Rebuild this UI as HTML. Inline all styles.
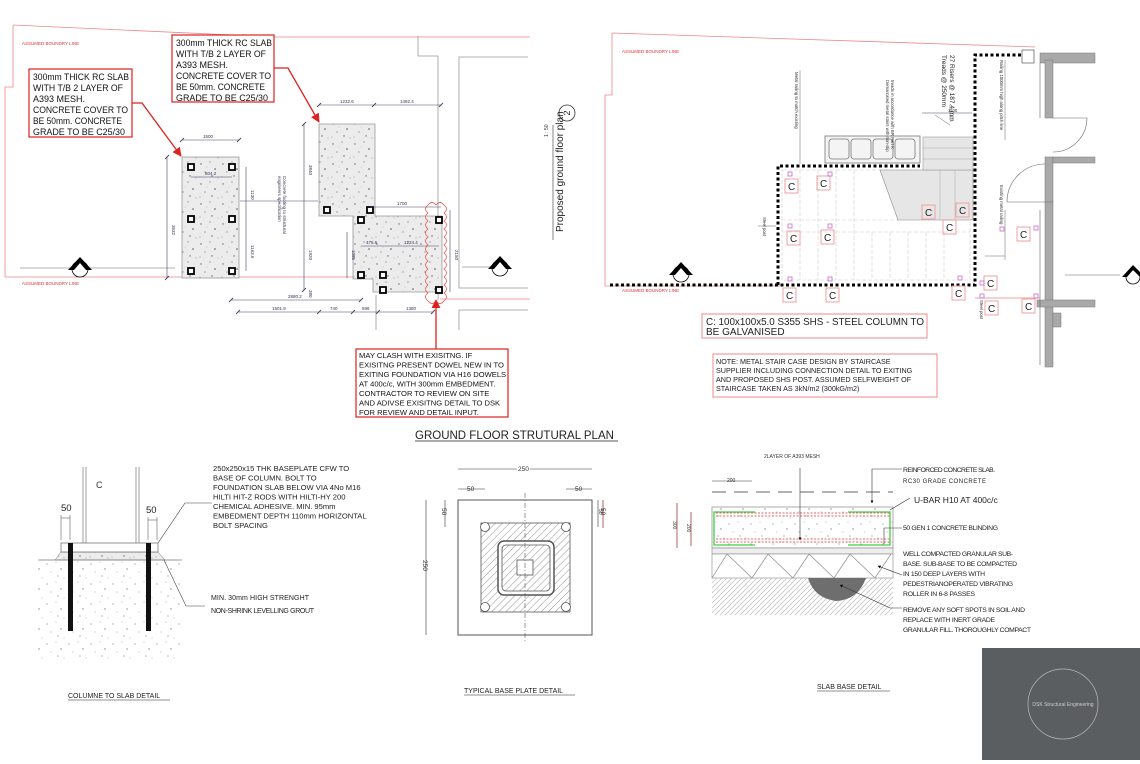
<!DOCTYPE html>
<html><head><meta charset="utf-8"><style>
html,body{margin:0;padding:0;background:#fff;}
svg{display:block;font-family:"Liberation Sans",sans-serif;}
</style></head><body>
<svg width="1140" height="764" viewBox="0 0 1140 764" xmlns="http://www.w3.org/2000/svg">
<defs>
<pattern id="spk" width="22" height="20" patternUnits="userSpaceOnUse">
<rect width="22" height="20" fill="#ececec"/>
<circle cx="3" cy="4" r="0.7" fill="#666"/><circle cx="12" cy="2" r="0.6" fill="#777"/>
<circle cx="17" cy="9" r="0.8" fill="#555"/><circle cx="7" cy="12" r="0.6" fill="#777"/>
<circle cx="14" cy="16" r="0.7" fill="#666"/><circle cx="2" cy="17" r="0.5" fill="#888"/>
<circle cx="20" cy="18" r="0.5" fill="#888"/><circle cx="9" cy="7" r="0.4" fill="#999"/>
</pattern>
<pattern id="spk2" width="22" height="20" patternUnits="userSpaceOnUse">
<rect width="22" height="20" fill="#fff"/>
<circle cx="3" cy="4" r="0.6" fill="#888"/><circle cx="12" cy="2" r="0.5" fill="#999"/>
<circle cx="17" cy="9" r="0.7" fill="#888"/><circle cx="7" cy="12" r="0.5" fill="#999"/>
<circle cx="14" cy="16" r="0.6" fill="#888"/><circle cx="20" cy="18" r="0.5" fill="#aaa"/>
</pattern>
<pattern id="hatch" width="5" height="5" patternUnits="userSpaceOnUse" patternTransform="rotate(45)">
<rect width="5" height="5" fill="#fff"/><line x1="0" y1="0" x2="0" y2="5" stroke="#777" stroke-width="0.8"/>
</pattern>
<pattern id="soil" width="10" height="10" patternUnits="userSpaceOnUse">
<path d="M0 10 L10 0 M5 10 L10 5 M0 5 L5 0" stroke="#bbb" stroke-width="0.7"/>
</pattern>
<marker id="ar" viewBox="0 0 10 10" refX="9" refY="5" markerWidth="7" markerHeight="7" orient="auto"><path d="M0 0L10 5L0 10z" fill="#d22"/></marker>
<marker id="ak" viewBox="0 0 10 10" refX="9" refY="5" markerWidth="5" markerHeight="5" orient="auto"><path d="M0 0L10 5L0 10z" fill="#000"/></marker>
</defs>

<g fill="none" stroke="#e88" stroke-width="0.8">
<path d="M13 25 L13 87 L5 87 L5 277 L320 277 L360 277"/>
<path d="M13 25 L277 37 L530 37"/>
<path d="M440 299 L530 299"/>
</g>
<text x="22" y="45" font-size="4.5" fill="#d33">ASSUMED BOUNDRY LINE</text>
<text x="22" y="285" font-size="4.5" fill="#d33">ASSUMED BOUNDRY LINE</text>
<g fill="none" stroke="#999" stroke-width="0.8">
<path d="M418 36 L418 56 L438 56 L438 300"/>
<path d="M528 57 L459 57 L459 288 L528 288"/>
<path d="M528 310 L459 310 L459 330"/>
<line x1="20" y1="268" x2="175" y2="268"/>
<line x1="462" y1="267" x2="495" y2="267"/>
<line x1="376" y1="295" x2="376" y2="330" />
</g>
<rect x="182" y="157" width="57" height="121" fill="url(#spk)" stroke="#999" stroke-width="0.8"/>
<path d="M319 124 L375 124 L375 216 L442 216 L442 292 L373 292 L373 279 L353 279 L353 216 L319 216 Z" fill="url(#spk)" stroke="#999" stroke-width="0.8"/>
<g fill="#fff" stroke="#000" stroke-width="1.8">
<rect x="188" y="164" width="6" height="6"/><rect x="229" y="164" width="6" height="6"/>
<rect x="188" y="216" width="6" height="6"/><rect x="229" y="216" width="6" height="6"/>
<rect x="188" y="268" width="6" height="6"/><rect x="229" y="268" width="6" height="6"/>
<rect x="324" y="207" width="6" height="6"/><rect x="367" y="207" width="6" height="6"/>
<rect x="358" y="217" width="6" height="6"/><rect x="436" y="217" width="6" height="6"/>
<rect x="358" y="272" width="6" height="6"/><rect x="380" y="272" width="6" height="6"/>
<rect x="380" y="287" width="6" height="6"/><rect x="436" y="287" width="6" height="6"/>
</g>
<g stroke="#446" stroke-width="0.6" fill="none">
<line x1="182" y1="140" x2="239" y2="140"/><line x1="191" y1="177" x2="232" y2="177"/>
<line x1="167" y1="157" x2="167" y2="278"/><line x1="246" y1="167" x2="246" y2="271"/>
<line x1="240" y1="201" x2="318" y2="201"/>
<line x1="319" y1="105" x2="441" y2="105"/><line x1="304" y1="124" x2="304" y2="290"/>
<line x1="370" y1="207" x2="441" y2="207"/><line x1="347" y1="232" x2="347" y2="278"/>
<line x1="361" y1="246" x2="439" y2="246"/><line x1="450" y1="210" x2="450" y2="292"/>
<line x1="231" y1="300" x2="361" y2="300"/><line x1="238" y1="312" x2="433" y2="312"/>
</g>
<g stroke="#446" stroke-width="0.9">
<path d="M180 142l4-4M237 142l4-4M165 159l4-4M165 280l4-4M317 107l4-4M372 107l4-4M439 107l4-4M229 302l4-4M359 302l4-4M236 314l4-4M317 314l4-4M351 314l4-4M376 314l4-4M431 314l4-4M302 126l4-4M302 292l4-4"/>
</g>
<g font-size="4.5" fill="#335">
<text x="203" y="138">1500</text><text x="205" y="175">804.2</text>
<text x="340" y="103">1232.6</text><text x="400" y="103">1492.4</text>
<text x="397" y="205">1700</text><text x="366" y="244">475.6</text><text x="404" y="244">1224.4</text>
<text x="288" y="298">2880.2</text><text x="272" y="310">1501.9</text><text x="330" y="310">740</text>
<text x="362" y="310">596</text><text x="406" y="310">1380</text>
</g>
<g font-size="4.5" fill="#335">
<text transform="translate(172,225) rotate(90)">3532</text>
<text transform="translate(251,190) rotate(90)">1130</text>
<text transform="translate(251,245) rotate(90)">1163.6</text>
<text transform="translate(309,165) rotate(90)">3840</text>
<text transform="translate(309,250) rotate(90)">1920</text>
<text transform="translate(352,250) rotate(90)">1085</text>
<text transform="translate(455,250) rotate(90)">2150</text>
<text transform="translate(309,290) rotate(90)">380</text>
<text transform="translate(283,176) rotate(90)">Concrete footing to structural</text>
<text transform="translate(278,176) rotate(90)">engineers specification</text>
</g>
<path d="M428 205 q4-5 8 0 q4-5 8 0 q5 4 0 8 q5 4 0 8 q5 4 0 8 q5 4 0 8 q5 4 0 8 q5 4 0 8 q5 4 0 8 q5 4 0 8 q5 4 0 8 q5 4 0 8 q5 4 0 8 q5 4 0 8 q-4 5-8 0 q-4 5-8 0 q-5-4 0-8 q-5-4 0-8 q-5-4 0-8 q-5-4 0-8 q-5-4 0-8 q-5-4 0-8 q-5-4 0-8 q-5-4 0-8 q-5-4 0-8 q-5-4 0-8 q-5-4 0-8 q-5-4 0-8z" fill="none" stroke="#e44" stroke-width="0.7"/>
<g fill="#fff" stroke="#d22" stroke-width="1.2">
<rect x="29" y="69" width="103" height="68"/>
<rect x="172" y="35" width="102" height="67"/>
<rect x="356" y="349" width="152" height="68"/>
</g>
<g stroke="#d22" stroke-width="1.3" fill="none">
<polyline points="132,103 142,103 181,156" marker-end="url(#ar)"/>
<polyline points="274,68 288,68 319,122" marker-end="url(#ar)"/>
<line x1="436" y1="349" x2="436" y2="300" marker-end="url(#ar)"/>
</g>
<g font-size="9.4" fill="#111">
<text x="33" y="80" textLength="96" lengthAdjust="spacingAndGlyphs">300mm THICK RC SLAB</text>
<text x="33" y="91" textLength="90" lengthAdjust="spacingAndGlyphs">WITH T/B 2 LAYER OF</text>
<text x="33" y="102" textLength="52" lengthAdjust="spacingAndGlyphs">A393 MESH.</text>
<text x="33" y="113" textLength="95" lengthAdjust="spacingAndGlyphs">CONCRETE COVER TO</text>
<text x="33" y="124" textLength="89" lengthAdjust="spacingAndGlyphs">BE 50mm. CONCRETE</text>
<text x="33" y="135" textLength="92" lengthAdjust="spacingAndGlyphs">GRADE TO BE C25/30</text>
<text x="176" y="46" textLength="96" lengthAdjust="spacingAndGlyphs">300mm THICK RC SLAB</text>
<text x="176" y="57" textLength="90" lengthAdjust="spacingAndGlyphs">WITH T/B 2 LAYER OF</text>
<text x="176" y="68" textLength="52" lengthAdjust="spacingAndGlyphs">A393 MESH.</text>
<text x="176" y="79" textLength="95" lengthAdjust="spacingAndGlyphs">CONCRETE COVER TO</text>
<text x="176" y="90" textLength="89" lengthAdjust="spacingAndGlyphs">BE 50mm. CONCRETE</text>
<text x="176" y="101" textLength="92" lengthAdjust="spacingAndGlyphs">GRADE TO BE C25/30</text>
</g>
<g font-size="7.6" fill="#111">
<text x="359" y="358">MAY CLASH WITH EXISITNG. IF</text>
<text x="359" y="367.5">EXISITNG PRESENT DOWEL NEW IN TO</text>
<text x="359" y="377">EXITING FOUNDATION VIA H16 DOWELS</text>
<text x="359" y="386.5">AT 400c/c, WITH 300mm EMBEDMENT.</text>
<text x="359" y="396">CONTRACTOR TO REVIEW ON SITE</text>
<text x="359" y="405.5">AND ADIVSE EXISITNG DETAIL TO DSK</text>
<text x="359" y="415">FOR REVIEW AND DETAIL INPUT.</text>
</g>
<g stroke="#000" stroke-width="0.8" fill="#fff">
<circle cx="80" cy="269" r="8"/><circle cx="500" cy="268" r="8"/><circle cx="681" cy="274" r="8"/><circle cx="1133" cy="277" r="7"/>
</g>
<g fill="#000"><path d="M68 270 L80 257 L92 270 L86 270 L80 263 L74 270Z"/><path d="M488 269 L500 256 L512 269 L506 269 L500 262 L494 269Z"/><path d="M669 275 L681 262 L693 275 L687 275 L681 268 L675 275Z"/><path d="M1122 277 L1133 265 L1140 272 L1140 277 L1133 270 L1127 277Z"/></g>
<circle cx="567" cy="113" r="8" fill="none" stroke="#333" stroke-width="0.8"/>
<text x="567" y="116" font-size="9" text-anchor="middle" transform="rotate(-90 567 113)" fill="#222">2</text>
<line x1="553" y1="125" x2="553" y2="240" stroke="#333" stroke-width="0.6"/>
<text transform="translate(548,137) rotate(-90)" font-size="5" fill="#333">1 : 50</text>
<text transform="translate(563,232) rotate(-90)" font-size="10" fill="#222">Proposed ground floor plan</text>

<g fill="none" stroke="#e88" stroke-width="0.8">
<path d="M612 33 L1035 47 M612 33 L612 95 L605 95 L605 286 L780 286"/>
<path d="M975 298 L1040 298"/>
</g>
<text x="622" y="53" font-size="4.5" fill="#d33">ASSUMED BOUNDRY LINE</text>
<text x="622" y="292" font-size="4.5" fill="#d33">ASSUMED BOUNDRY LINE</text>
<g stroke="#ccc" stroke-width="0.6" stroke-dasharray="4 2" fill="none">
<rect x="782" y="170" width="188" height="110"/>
<line x1="782" y1="220" x2="900" y2="220"/><line x1="782" y1="232" x2="970" y2="232"/>
<line x1="800" y1="170" x2="800" y2="280"/><line x1="818" y1="170" x2="818" y2="280"/><line x1="836" y1="170" x2="836" y2="280"/><line x1="854" y1="170" x2="854" y2="280"/><line x1="872" y1="232" x2="872" y2="280"/><line x1="890" y1="232" x2="890" y2="280"/><line x1="908" y1="232" x2="908" y2="280"/><line x1="926" y1="232" x2="926" y2="280"/><line x1="944" y1="232" x2="944" y2="280"/>
</g>
<path d="M880 170 L973 170 L973 220 L898 220 Z" fill="#e6e6e6" stroke="#888" stroke-width="0.6"/>
<rect x="923" y="137" width="50" height="33" fill="#e6e6e6" stroke="#999" stroke-width="0.6"/>
<g stroke="#aaa" stroke-width="0.5"><line x1="923" y1="148" x2="973" y2="148"/><line x1="923" y1="159" x2="973" y2="159"/><line x1="940" y1="170" x2="940" y2="220"/><line x1="955" y1="170" x2="955" y2="220"/></g>
<g fill="#f4f4f4" stroke="#777" stroke-width="0.8">
<rect x="825" y="136" width="95" height="27"/>
<rect x="829" y="139" width="20" height="20" rx="3"/><rect x="851" y="139" width="20" height="20" rx="3"/><rect x="873" y="139" width="20" height="20" rx="3"/><rect x="895" y="139" width="20" height="20" rx="3"/>
</g>
<g stroke="#000" stroke-width="3" stroke-dasharray="3 2.5" fill="none">
<path d="M610 285 L975 285 L975 55 L1023 55"/>
<path d="M778 285 L778 166 L920 166"/>
</g>
<g stroke="#666" stroke-width="0.5" fill="none">
<line x1="800" y1="70" x2="800" y2="164"/><line x1="1005" y1="60" x2="1005" y2="140"/>
<line x1="950" y1="105" x2="950" y2="120"/><line x1="1005" y1="210" x2="1005" y2="260"/>
<line x1="985" y1="256" x2="1005" y2="256"/><line x1="758" y1="226" x2="776" y2="226"/>
<line x1="935" y1="115" x2="950" y2="125"/>
<line x1="922" y1="113" x2="972" y2="113" stroke="#446"/>
</g>
<g font-size="4.3" fill="#333">
<text transform="translate(795,72) rotate(90)">Metal railing to match existing</text>
<text transform="translate(886,80) rotate(90)">Demarcated metal stairs with non-slip</text>
<text transform="translate(891,80) rotate(90)">treads in accordance with BR Part K</text>
<text transform="translate(1000,60) rotate(90)">Railing 1000mm high along pitch line</text>
<text transform="translate(1000,185) rotate(90)">Existing metal railing</text>
<text transform="translate(763,217) rotate(90)">Steel post</text>
<text transform="translate(980,300) rotate(90)">Steel post</text>
<text x="948" y="112">1100</text>
</g>
<g font-size="6.5" fill="#222">
<text transform="translate(950,55) rotate(90)">27 Risers @  187.4 mm</text>
<text transform="translate(942,55) rotate(90)">Treads @   250mm</text>
</g>
<g fill="#a9a9a9" stroke="#777" stroke-width="0.5">
<rect x="1040" y="53" width="55" height="10"/>
<rect x="1045" y="60" width="8" height="58"/>
<rect x="1045" y="157" width="8" height="45"/>
<rect x="1053" y="157" width="42" height="6"/>
<rect x="1045" y="202" width="8" height="165"/>
<rect x="1037" y="300" width="58" height="7"/>
<rect x="1053" y="313" width="8" height="14"/>
</g>
<rect x="1022" y="50" width="12" height="13" fill="#fff" stroke="#555" stroke-width="0.7"/>
<g stroke="#666" stroke-width="0.6" fill="none">
<line x1="1040" y1="63" x2="1040" y2="118"/><line x1="1040" y1="210" x2="1040" y2="365"/>
<path d="M1053 118 L1087 118 A34 34 0 0 1 1053 152"/>
<path d="M1045 202 L1007 202 A38 38 0 0 1 1045 164"/>
<line x1="1065" y1="275" x2="1120" y2="275"/>
</g>
<g fill="none" stroke="#e99" stroke-width="0.9">
<rect x="785" y="179" width="13" height="14"/><rect x="817" y="176" width="13" height="14"/>
<rect x="922" y="205" width="13" height="14"/><rect x="956" y="203" width="13" height="14"/>
<rect x="943" y="220" width="13" height="14"/><rect x="787" y="231" width="13" height="14"/>
<rect x="821" y="230" width="13" height="14"/><rect x="783" y="288" width="13" height="14"/>
<rect x="826" y="288" width="13" height="14"/><rect x="952" y="286" width="13" height="14"/>
<rect x="984" y="276" width="13" height="14"/><rect x="985" y="301" width="13" height="14"/>
<rect x="1017" y="227" width="13" height="14"/><rect x="1022" y="299" width="13" height="14"/>
</g>
<g fill="none" stroke="#c6c" stroke-width="0.8">
<rect x="788" y="172" width="4" height="4"/><rect x="828" y="172" width="4" height="4"/>
<rect x="788" y="224" width="4" height="4"/><rect x="828" y="224" width="4" height="4"/>
<rect x="788" y="277" width="4" height="4"/><rect x="828" y="277" width="4" height="4"/>
<rect x="958" y="276" width="4" height="4"/><rect x="1000" y="227" width="4" height="4"/>
<rect x="1034" y="226" width="4" height="4"/><rect x="980" y="281" width="4" height="4"/>
<rect x="980" y="294" width="4" height="4"/><rect x="1034" y="294" width="4" height="4"/>
</g>
<g font-size="10" fill="#222">
<text x="788" y="190">C</text><text x="820" y="187">C</text><text x="925" y="216">C</text><text x="959" y="214">C</text>
<text x="946" y="231">C</text><text x="790" y="242">C</text><text x="824" y="241">C</text><text x="786" y="299">C</text>
<text x="829" y="299">C</text><text x="955" y="297">C</text><text x="987" y="287">C</text><text x="988" y="312">C</text>
<text x="1020" y="238">C</text><text x="1025" y="310">C</text>
</g>
<rect x="702" y="314" width="225" height="24" fill="none" stroke="#e88" stroke-width="1"/>
<text x="706" y="325" font-size="10" fill="#222" textLength="218" lengthAdjust="spacingAndGlyphs">C: 100x100x5.0 S355 SHS - STEEL COLUMN TO</text>
<text x="706" y="335" font-size="10" fill="#222">BE GALVANISED</text>
<rect x="713" y="354" width="224" height="43" fill="none" stroke="#e88" stroke-width="1"/>
<g font-size="7.2" fill="#222">
<text x="716" y="364">NOTE: METAL STAIR CASE DESIGN BY STAIRCASE</text>
<text x="716" y="373">SUPPLIER INCLUDING CONNECTION DETAIL TO EXITING</text>
<text x="716" y="382">AND PROPOSED SHS POST. ASSUMED SELFWEIGHT OF</text>
<text x="716" y="391">STAIRCASE TAKEN AS 3kN/m2 (300kG/m2)</text>
</g>

<text x="415" y="439" font-size="11.5" fill="#222">GROUND FLOOR  STRUTURAL PLAN</text>
<line x1="415" y1="441" x2="618" y2="441" stroke="#222" stroke-width="0.7"/>

<rect x="38" y="560" width="144" height="100" fill="url(#spk2)"/>
<path d="M55 560 L61 552 L158 552 L165 560Z" fill="url(#spk)" stroke="#777" stroke-width="0.5"/>
<line x1="38" y1="560" x2="182" y2="560" stroke="#777" stroke-width="0.8"/>
<g stroke="#888" stroke-width="0.8"><line x1="83" y1="467" x2="83" y2="543"/><line x1="86" y1="467" x2="86" y2="543"/><line x1="136" y1="467" x2="136" y2="543"/><line x1="139" y1="467" x2="139" y2="543"/></g>
<rect x="61" y="543" width="97" height="9" fill="#fff" stroke="#666" stroke-width="0.7"/>
<rect x="68" y="543" width="5" height="88" fill="#111"/><rect x="146" y="543" width="5" height="88" fill="#111"/>
<g stroke="#444" stroke-width="0.5"><line x1="61" y1="515" x2="61" y2="540"/><line x1="70" y1="515" x2="70" y2="540"/><line x1="148" y1="517" x2="148" y2="540"/><line x1="157" y1="517" x2="157" y2="540"/><line x1="61" y1="518" x2="70" y2="518"/><line x1="148" y1="520" x2="157" y2="520"/></g>
<text x="96" y="488" font-size="9" fill="#333">C</text>
<text x="61" y="511" font-size="9.5" fill="#222">50</text><text x="146" y="513" font-size="9.5" fill="#222">50</text>
<polyline points="158,543 185,503 212,503" fill="none" stroke="#444" stroke-width="0.6"/>
<polyline points="164,560 186,606 205,606" fill="none" stroke="#444" stroke-width="0.6"/>
<g font-size="7.6" fill="#222">
<text x="213" y="471">250x250x15 THK BASEPLATE CFW TO</text>
<text x="213" y="480.5">BASE OF COLUMN. BOLT TO</text>
<text x="213" y="490">FOUNDATION SLAB BELOW VIA 4No M16</text>
<text x="213" y="499.5">HILTI HIT-Z RODS WITH HILTI-HY 200</text>
<text x="213" y="509">CHEMICAL ADHESIVE. MIN. 95mm</text>
<text x="213" y="518.5">EMBEDMENT DEPTH 110mm HORIZONTAL</text>
<text x="213" y="528">BOLT SPACING</text>
<text x="211" y="600" font-size="7" textLength="98">MIN. 30mm HIGH STRENGHT</text>
<text x="211" y="613" font-size="7" textLength="103">NON-SHRINK LEVELLING GROUT</text>
</g>
<text x="68" y="698" font-size="7" fill="#222">COLUMNE TO SLAB DETAIL</text>
<line x1="68" y1="700" x2="170" y2="700" stroke="#222" stroke-width="0.6"/>

<rect x="458" y="500" width="134" height="135" fill="#fff" stroke="#555" stroke-width="1"/>
<rect x="481" y="523" width="89" height="89" fill="url(#hatch)" stroke="#555" stroke-width="0.8"/>
<rect x="498" y="541" width="56" height="54" rx="6" fill="#fff" stroke="#555" stroke-width="1.5"/>
<rect x="502" y="545" width="48" height="46" rx="4" fill="url(#hatch)" stroke="#555" stroke-width="0.8"/>
<rect x="517" y="560" width="16" height="15" fill="#fff" stroke="#555" stroke-width="0.8"/>
<g fill="#fff" stroke="#555" stroke-width="0.8"><circle cx="485" cy="527" r="4.5"/><circle cx="566" cy="527" r="4.5"/><circle cx="485" cy="607" r="4.5"/><circle cx="566" cy="607" r="4.5"/></g>
<line x1="525" y1="493" x2="525" y2="642" stroke="#555" stroke-width="0.6" stroke-dasharray="5 2 1 2"/>
<g stroke="#333" stroke-width="0.6"><line x1="458" y1="469" x2="592" y2="469"/><line x1="458" y1="489" x2="485" y2="489"/><line x1="566" y1="489" x2="592" y2="489"/><line x1="426" y1="500" x2="426" y2="635"/><line x1="445" y1="500" x2="445" y2="527"/><line x1="598" y1="500" x2="598" y2="527"/></g>
<g font-size="6.5" fill="#333"><text x="518" y="471" style="paint-order:stroke" stroke="#fff" stroke-width="3">250</text><text x="467" y="491">50</text><text x="575" y="491">50</text>
<text transform="translate(423,560) rotate(90)">250</text><text transform="translate(442,508) rotate(90)">50</text><text transform="translate(601,508) rotate(90)">50</text></g>
<text x="464" y="693" font-size="7" fill="#222">TYPICAL BASE PLATE DETAIL</text>
<line x1="464" y1="695" x2="575" y2="695" stroke="#222" stroke-width="0.6"/>

<text x="764" y="458" font-size="5" fill="#333">2LAYER OF A393 MESH</text>
<line x1="712" y1="492" x2="893" y2="492" stroke="#333" stroke-width="0.8" stroke-dasharray="14 8"/>
<line x1="712" y1="481" x2="752" y2="481" stroke="#333" stroke-width="0.5"/><text x="727" y="482" font-size="5" fill="#333">200</text>
<rect x="712" y="507" width="181" height="41" fill="url(#spk2)" stroke="#888" stroke-width="0.7"/>
<rect x="712" y="548" width="181" height="6" fill="#eee" stroke="#888" stroke-width="0.6"/>
<g stroke="#d33" stroke-width="0.8" stroke-dasharray="2 1.5"><line x1="716" y1="513" x2="890" y2="513"/><line x1="716" y1="516" x2="890" y2="516"/><line x1="716" y1="539" x2="890" y2="539"/><line x1="716" y1="542" x2="890" y2="542"/></g>
<g fill="none" stroke="#4c4" stroke-width="1.3"><path d="M755 512 L714 512 L714 545 L755 545"/><path d="M848 512 L890 512 L890 545 L848 545"/></g>
<rect x="712" y="554" width="181" height="24" fill="#fff" stroke="#888" stroke-width="0.6"/>
<path d="M712 578 L727 554 L752 578 L768 554 L793 578 L809 554 L834 578 L850 554 L875 578 L891 554" fill="none" stroke="#888" stroke-width="0.7"/>
<rect x="712" y="578" width="181" height="37" fill="url(#soil)"/>
<path d="M808 578 L866 578 Q858 600 836 601 Q814 598 808 578Z" fill="#6e6e6e"/>
<line x1="800" y1="468" x2="800" y2="540" stroke="#333" stroke-width="0.6" marker-end="url(#ak)"/>
<polyline points="902,469 872,469 872,503" fill="none" stroke="#333" stroke-width="0.6" marker-end="url(#ak)"/>
<line x1="910" y1="498" x2="890" y2="510" stroke="#333" stroke-width="0.6"/>
<polyline points="902,528 884,528 884,544" fill="none" stroke="#333" stroke-width="0.6"/>
<line x1="902" y1="575" x2="878" y2="566" stroke="#333" stroke-width="0.6" marker-end="url(#ak)"/>
<polyline points="902,608 890,608 840,585" fill="none" stroke="#333" stroke-width="0.6" marker-end="url(#ak)"/>
<g stroke="#822" stroke-width="0.7"><line x1="677" y1="503" x2="677" y2="548"/><line x1="691" y1="512" x2="691" y2="546"/><line x1="603" y1="500" x2="603" y2="528"/></g>
<g font-size="5" fill="#333"><text transform="translate(673,521) rotate(90)">300</text><text transform="translate(687,524) rotate(90)">200</text><text transform="translate(599,509) rotate(90)">50</text></g>
<g font-size="6.8" fill="#222">
<text x="903" y="472" textLength="92">REINFORCED CONCRETE SLAB.</text>
<text x="903" y="483" font-size="6" textLength="83">RC30 GRADE CONCRETE</text>
<text x="914" y="503" font-size="8.5">U-BAR H10 AT 400c/c</text>
<text x="903" y="530" textLength="95">50 GEN 1 CONCRETE BLINDING</text>
<text x="903" y="556" textLength="110">WELL COMPACTED GRANULAR SUB-</text>
<text x="903" y="566" textLength="114">BASE. SUB-BASE TO BE COMPACTED</text>
<text x="903" y="576" textLength="82">IN 150 DEEP LAYERS WITH</text>
<text x="903" y="586" textLength="110">PEDESTRIANOPERATED VIBRATING</text>
<text x="903" y="596" textLength="72">ROLLER IN 6-8 PASSES</text>
<text x="903" y="612" textLength="122">REMOVE ANY SOFT SPOTS IN SOIL AND</text>
<text x="903" y="622" textLength="92">REPLACE WITH INERT GRADE</text>
<text x="903" y="632" textLength="128">GRANULAR FILL. THOROUGHLY COMPACT</text>
</g>
<text x="817" y="689" font-size="7" fill="#222">SLAB BASE DETAIL</text>
<line x1="817" y1="691" x2="890" y2="691" stroke="#222" stroke-width="0.6"/>

<rect x="982" y="648" width="158" height="112" fill="#5b5e61"/>
<circle cx="1063" cy="704" r="35" fill="none" stroke="#bbb" stroke-width="0.7"/>
<text x="1063" y="706" font-size="5" fill="#ccc" text-anchor="middle">DSK Structural Engineering</text>
</svg>
</body></html>
